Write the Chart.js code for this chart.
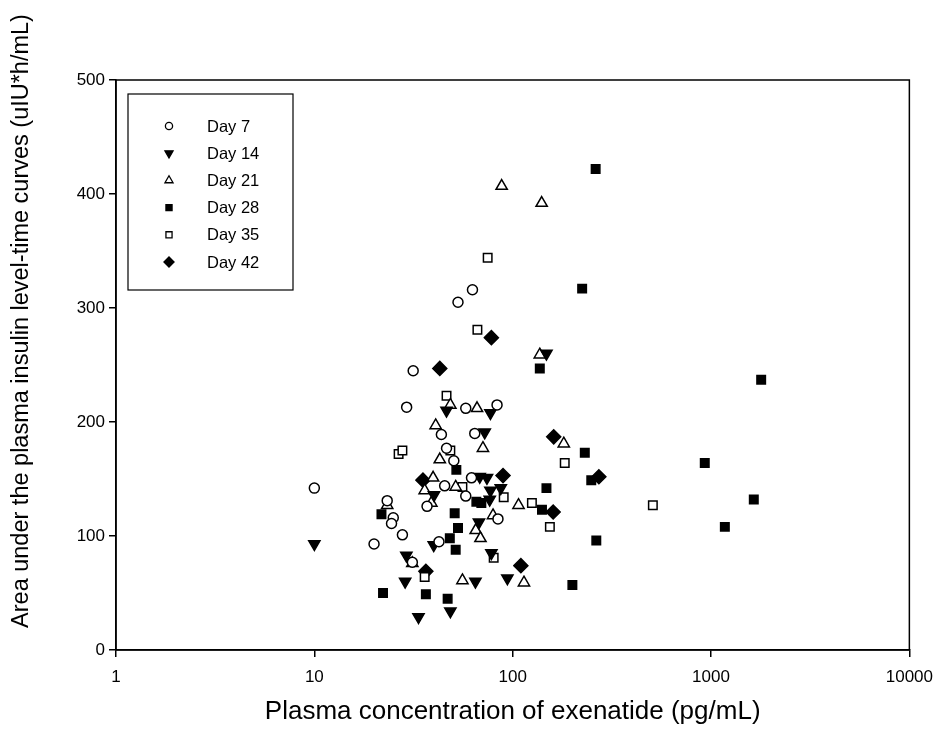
<!doctype html>
<html lang="en">
<head>
  <meta charset="utf-8">
  <title>Insulin AUC vs exenatide</title>
  <script src="https://cdn.jsdelivr.net/npm/chart.js@4.4.0/dist/chart.umd.min.js"></script>
  <style>
    body { margin: 0; background: #fff; }
  </style>
</head>
<body>
  <canvas id="chart" width="943" height="745"></canvas>

  <script>
    // data: [exenatide pg/mL, AUC uIU*h/mL]
    var day7 = [[10,142],[20,93],[23.3,131],[25,116],[24.5,111],[27.8,101],[29.2,213],[31.5,245],[31.2,77],[37,126],
      [43.7,189],[46.4,177],[50.5,166],[45.4,144],[42.5,95],[53,305],[62.7,316],[58,212],[83.4,215],[64.4,190],
      [62,151],[58,135],[84.3,115]];
    var day14 = [[10,93],[29.1,83],[28.7,60],[33.5,29],[48.5,34],[40,92],[40.1,136],[46.4,210],[72.3,191],[77.2,208],
      [68.2,152],[74.2,151],[77.2,140],[87.1,142],[76.6,132],[67.6,112],[78.1,85],[64.9,60],[94,63],[148,260]];
    var day21 = [[48.5,215],[40.9,197],[42.9,167],[39.7,151],[51.6,143],[36,140],[38.9,129],[23.3,127],[31.2,76],[65.1,105],
      [68.8,98],[66.1,212],[70.8,177],[55.8,61],[114,59],[107,127],[79.6,118],[181,181],[137,259],[88,407],[140,392]];
    var day28 = [[21.8,119],[22.2,50],[36.5,49],[47,45],[52,158],[51,120],[53,107],[48.2,98],[51.6,88],[65.6,130],
      [69.5,129],[137,247],[140.5,123],[148,142],[200,57],[231,173],[249,149],[264,96],[224,317],[262,422],
      [930,164],[1174,108],[1643,132],[1790,237]];
    var day35 = [[46.4,223],[48.5,175],[26.6,172],[27.8,175],[36,64],[80.2,81],[154,108],[55.8,143],[90.1,134],[125,129],
      [183,164],[509,127],[66.4,281],[74.8,344]];
    var day42 = [[42.9,247],[78.1,274],[161,187],[272,152],[160,121],[110,74],[89.4,153],[35.3,149],[36.5,69]];

    var seriesNames = ['Day 7', 'Day 14', 'Day 21', 'Day 28', 'Day 35', 'Day 42'];
    var xTicks = [1, 10, 100, 1000, 10000];
    var yTicks = [0, 100, 200, 300, 400, 500];
    var yTitle = 'Area under the plasma insulin level-time curves (uIU*h/mL)';

    var FONT = 'Liberation Sans, Arial, sans-serif';

    var styles = [
      { pointStyle: 'circle', radius: 5, rotation: 0, fill: '#fff' },
      { pointStyle: 'triangle', radius: 6.5, rotation: 180, fill: '#000' },
      { pointStyle: 'triangle', radius: 6.5, rotation: 0, fill: '#fff' },
      { pointStyle: 'rect', radius: 6, rotation: 0, fill: '#000' },
      { pointStyle: 'rect', radius: 6, rotation: 0, fill: '#fff' },
      { pointStyle: 'rectRot', radius: 7, rotation: 0, fill: '#000' }
    ];

    function toPoints(arr) {
      return arr.map(function (p) { return { x: p[0], y: p[1] }; });
    }

    var allSeries = [day7, day14, day21, day28, day35, day42];
    var datasets = allSeries.map(function (arr, i) {
      var s = styles[i];
      return {
        label: seriesNames[i],
        data: toPoints(arr),
        pointStyle: s.pointStyle,
        pointRadius: s.radius,
        rotation: s.rotation,
        backgroundColor: s.fill,
        borderColor: '#000',
        borderWidth: 1.5,
        showLine: false
      };
    });

    // frame, y title and legend box inside the plot
    var framePlugin = {
      id: 'frame',
      afterDraw: function (chart) {
        var ctx = chart.ctx, a = chart.chartArea;
        ctx.save();
        ctx.strokeStyle = '#000';
        ctx.lineWidth = 1.5;
        ctx.strokeRect(a.left, a.top, a.right - a.left, a.bottom - a.top);

        // y axis title (sits higher than the plot centre in the original)
        ctx.save();
        ctx.translate(22, 321);
        ctx.rotate(-Math.PI / 2);
        ctx.font = '23.5px ' + FONT;
        ctx.fillStyle = '#000';
        ctx.textAlign = 'center';
        ctx.textBaseline = 'middle';
        ctx.fillText(yTitle, 0, 0);
        ctx.restore();

        // legend
        var lx = 128, ly = 94, lw = 165, lh = 196;
        ctx.lineWidth = 1.2;
        ctx.fillStyle = '#fff';
        ctx.fillRect(lx, ly, lw, lh);
        ctx.strokeRect(lx, ly, lw, lh);
        ctx.font = '16.5px ' + FONT;
        ctx.textBaseline = 'middle';
        for (var i = 0; i < seriesNames.length; i++) {
          var yy = 126 + i * 27.2;
          var s = styles[i];
          ctx.fillStyle = s.fill;
          ctx.strokeStyle = '#000';
          ctx.lineWidth = 1.3;
          Chart.helpers.drawPoint(ctx, {
            pointStyle: s.pointStyle,
            radius: s.radius * 0.72,
            rotation: s.rotation,
            borderWidth: 1.3
          }, 169, yy);
          ctx.fillStyle = '#000';
          ctx.fillText(seriesNames[i], 207, yy + 1);
        }
        ctx.restore();
      }
    };

    new Chart(document.getElementById('chart'), {
      type: 'scatter',
      data: { datasets: datasets },
      options: {
        responsive: false,
        animation: false,
        layout: { padding: { top: 80, right: 33, left: 0, bottom: 0 } },
        plugins: {
          legend: { display: false },
          tooltip: { enabled: false }
        },
        scales: {
          x: {
            type: 'logarithmic',
            min: 1,
            max: 10000,
            afterBuildTicks: function (scale) {
              scale.ticks = xTicks.map(function (v) { return { value: v }; });
            },
            afterFit: function (scale) { scale.height = 95; },
            ticks: {
              color: '#000',
              font: { family: FONT, size: 17 },
              padding: 10,
              maxRotation: 0,
              callback: function (v) { return String(v); }
            },
            grid: { display: true, drawOnChartArea: false, drawTicks: true, tickLength: 7, color: '#000', lineWidth: 1.5 },
            border: { display: true, color: '#000', width: 1.5 },
            title: {
              display: true,
              text: 'Plasma concentration of exenatide (pg/mL)',
              color: '#000',
              font: { family: FONT, size: 26 },
              padding: { top: 0, bottom: 18 }
            }
          },
          y: {
            min: 0,
            max: 500,
            afterBuildTicks: function (scale) {
              scale.ticks = yTicks.map(function (v) { return { value: v }; });
            },
            afterFit: function (scale) { scale.width = 116; },
            ticks: {
              color: '#000',
              font: { family: FONT, size: 17 },
              padding: 4
            },
            grid: { display: true, drawOnChartArea: false, drawTicks: true, tickLength: 7, color: '#000', lineWidth: 1.5 },
            border: { display: true, color: '#000', width: 1.5 },
            title: { display: false }
          }
        }
      },
      plugins: [framePlugin]
    });
  </script>
</body>
</html>
